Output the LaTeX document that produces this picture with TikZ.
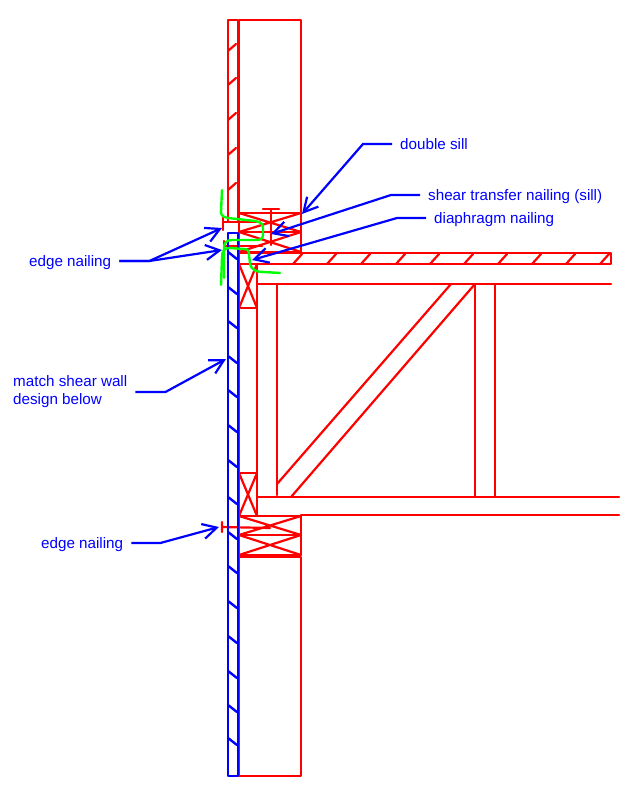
\documentclass[tikz,border=0pt]{standalone}
\usepackage{fontspec}
\setmainfont{Liberation Sans}
\usepackage{xcolor}
\usetikzlibrary{calc,arrows.meta}
\definecolor{framing}{HTML}{FF0000}
\definecolor{sheath}{HTML}{0000FF}
\definecolor{nailing}{HTML}{00FF00}
\tikzset{
  wood/.style={draw=framing, line width=2.2pt, line cap=round, line join=round},
  panel/.style={draw=sheath, line width=2.4pt, line cap=round, line join=round},
  nailpath/.style={draw=nailing, line width=2.4pt, line cap=round},
  leader/.style={draw=sheath, line width=2.2pt, -{Straight Barb[length=14pt,width=15pt,line width=2.2pt]}},
  lab/.style={text=sheath, font=\fontsize{15.2}{18}\selectfont, inner sep=8pt, anchor=west,
    text height=12pt, text depth=2pt},
  labm/.style={text=sheath, font=\fontsize{15.2}{18}\selectfont, inner sep=8pt, anchor=west, align=left}
}
\begin{document}
\begin{tikzpicture}[x=1pt,y=-1pt]
  \useasboundingbox (0,0) rectangle (640,800);
  % upper wall
  \draw[wood] (228,20) rectangle (238,222);
  \draw[wood] (239,20) rectangle (301,213);
  \foreach \y in {51,85,120,155,190} \draw[wood] (228,\y)--(236,\y-7);
  % double sill
  \draw[wood] (239,213) rectangle (301,232);
  \draw[wood] (239,232) rectangle (301,252);
  \draw[wood] (239,213)--(301,232) (239,232)--(301,213);
  \draw[wood] (239,232)--(301,252) (239,252)--(301,232);
  % floor sheathing
  \draw[wood] (239,253)--(611,253)--(611,264)--(239,264);
  \foreach \x in {293,327,361,396,430,464,498,532,566,600} \draw[wood] (\x,264)--(\x+9,254);
  % rim and blocks
  \draw[wood] (239,252)--(239,776);
  \draw[wood] (257,264)--(257,516);
  \draw[wood] (239,308)--(257,308);
  \draw[wood] (239,264)--(257,308) (257,264)--(239,308);
  \draw[wood] (239,473)--(257,473);
  \draw[wood] (239,473)--(257,516) (257,473)--(239,516);
  % truss
  \draw[wood] (257,284)--(611,284);
  \draw[wood] (257,497)--(619,497);
  \draw[wood] (301,515)--(619,515);
  \draw[wood] (277,284)--(277,495);
  \draw[wood] (277,484)--(451,284);
  \draw[wood] (291,497)--(475,284);
  \draw[wood] (475,284)--(475,497) (495,284)--(495,497);
  % lower plates and wall
  \draw[wood] (239,516) rectangle (301,535);
  \draw[wood] (239,535) rectangle (301,555);
  \draw[wood] (239,516)--(301,535) (239,535)--(301,516);
  \draw[wood] (239,535)--(301,555) (239,555)--(301,535);
  \draw[wood] (239,557) rectangle (301,776);
  % nails
  \draw[wood] (222,522)--(222,532) (222,527)--(270,528);
  \draw[wood] (223,217)--(223,230) (223,222)--(260,222);
  \draw[wood] (224,241)--(224,252) (224,246)--(262,246);
  \draw[wood] (263,209)--(279,209) (271,209)--(271,245);
  % lower sheathing
  \draw[panel] (228,233) rectangle (238,776);
  \foreach \y in {252,287,321,356,390,425,460,497,532,566,601,636,671,705,738}
    \draw[panel] (228,\y)--(237,\y+7);
  % labels and leaders
  \coordinate (tipsill) at (302,214);
  \coordinate (tipshear) at (271,234);
  \coordinate (tipdiaph) at (252,260);
  \coordinate (tipedgea) at (222,228);
  \coordinate (tipedgeb) at (222,250);
  \coordinate (tipmatch) at (226,359);
  \coordinate (tipedgec) at (219,527);
  \node[lab] (doublesill) at (392,144) {double sill};
  \node[lab] (shearnail) at (420,195) {shear transfer nailing (sill)};
  \node[lab] (diaphnail) at (426,218) {diaphragm nailing};
  \node[lab] (edgeupper) at (21,261) {edge nailing};
  \node[labm] (matchwall) at (5,392) {match shear wall\\design below};
  \node[lab] (edgelower) at (33,543) {edge nailing};
  \draw[leader] (doublesill.west)--++(-29,0)--(tipsill);
  \draw[leader] (shearnail.west)--++(-29,0)--(tipshear);
  \draw[leader] (diaphnail.west)--++(-29,0)--(tipdiaph);
  \draw[leader] (edgeupper.east)--++(30,0)--(tipedgea);
  \draw[leader] (edgeupper.east)--++(30,0)--(tipedgeb);
  \draw[leader] (matchwall.east)--++(30,0)--(tipmatch);
  \draw[leader] (edgelower.east)--++(29,0)--(tipedgec);
  % nailing marks
  \draw[nailpath] (222,190)--(221,212) .. controls (221,216) and (224,217) .. (228,218)
    -- (255,221) .. controls (261,222) and (263,224) .. (263,228)
    -- (263,235) .. controls (263,239) and (260,240) .. (256,240)
    -- (232,240) .. controls (226,240) and (224,243) .. (224,249) -- (224,278);
  \draw[nailpath] (221,285)--(222,258) .. controls (222,251) and (224,248) .. (230,248)
    -- (244,249) .. controls (248,249) and (249,251) .. (249,255)
    -- (250,263) .. controls (251,270) and (256,272) .. (264,272) -- (280,273);
\end{tikzpicture}
\end{document}
